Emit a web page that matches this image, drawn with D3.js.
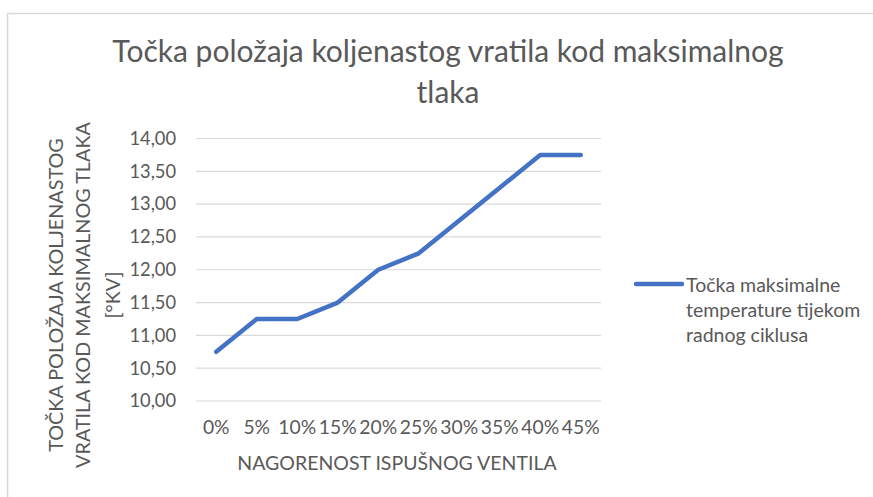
<!DOCTYPE html>
<html>
<head>
<meta charset="utf-8">
<script src="https://cdn.jsdelivr.net/npm/d3@7"></script>
<style>
  html, body { margin: 0; padding: 0; background: #fff; }
  svg { display: block; }
  text { font-family: Lato, "Open Sans", sans-serif; fill: #595959; }
</style>
</head>
<body>
<svg id="chart" width="873" height="497"></svg>
<script>
const categories = ["0%", "5%", "10%", "15%", "20%", "25%", "30%", "35%", "40%", "45%"];
const values = [10.75, 11.25, 11.25, 11.5, 12.0, 12.25, 12.75, 13.25, 13.75, 13.75];
const yTicks = [10, 10.5, 11, 11.5, 12, 12.5, 13, 13.5, 14];
const titleLines = ["Točka položaja koljenastog vratila kod maksimalnog", "tlaka"];
const yTitleLines = ["TOČKA POLOŽAJA KOLJENASTOG", "VRATILA KOD MAKSIMALNOG TLAKA", "[°KV]"];
const xTitle = "NAGORENOST ISPUŠNOG VENTILA";
const legendLines = ["Točka maksimalne", "temperature tijekom", "radnog ciklusa"];

const svg = d3.select("#chart");
const W = 873, H = 497;
const plot = { left: 196, right: 601, top: 138.5, bottom: 401 };

// chart border
svg.append("rect").attr("x", 7.5).attr("y", 13.5).attr("width", W).attr("height", H)
  .attr("fill", "none").attr("stroke", "#D9D9D9").attr("stroke-width", 1.5);

const x = d3.scaleBand().domain(categories).range([plot.left, plot.right]);
const y = d3.scaleLinear().domain([10, 14]).range([plot.bottom, plot.top]);

// gridlines
svg.append("g").selectAll("line").data(yTicks).join("line")
  .attr("x1", plot.left).attr("x2", plot.right)
  .attr("y1", d => y(d)).attr("y2", d => y(d))
  .attr("stroke", "#D9D9D9").attr("stroke-width", 1.2);

// y axis labels
const fmt = d => d.toFixed(2).replace(".", ",");
const yAxis = d3.axisLeft(y).tickValues(yTicks).tickFormat(fmt).tickSize(0).tickPadding(0);
const gy = svg.append("g").attr("transform", `translate(176,0)`).call(yAxis);
gy.select(".domain").remove();
gy.selectAll("text").attr("font-size", 18.3).style("fill", "#595959")
  .style("font-family", "Lato, sans-serif");

// x axis labels
const xAxis = d3.axisBottom(x).tickSize(0).tickPadding(0);
const gx = svg.append("g").attr("transform", `translate(0,420.5)`).call(xAxis);
gx.select(".domain").remove();
gx.selectAll("text").attr("font-size", 19.3).attr("dy", "0.71em").attr("y", 0).style("fill", "#595959")
  .style("font-family", "Lato, sans-serif");

// line
const line = d3.line().x((d, i) => x(categories[i]) + x.bandwidth() / 2).y(d => y(d));
svg.append("path").datum(values).attr("d", line)
  .attr("fill", "none").attr("stroke", "#4472C4").attr("stroke-width", 4.5)
  .attr("stroke-linejoin", "round").attr("stroke-linecap", "round");

// title
svg.append("g").selectAll("text").data(titleLines).join("text")
  .attr("x", 448).attr("y", (d, i) => 62 + i * 41)
  .attr("text-anchor", "middle").attr("font-size", 30).text(d => d);

// y axis title
svg.append("g").selectAll("text").data(yTitleLines).join("text")
  .attr("transform", (d, i) => `translate(${[54.5, 82, 112][i]},295) rotate(-90)`)
  .attr("text-anchor", "middle").attr("dominant-baseline", "central")
  .attr("font-size", 19.8).text(d => d);

// x axis title
svg.append("text").attr("x", 397).attr("y", 470).attr("text-anchor", "middle")
  .attr("font-size", 19.5).text(xTitle);

// legend
svg.append("line").attr("x1", 636).attr("x2", 682).attr("y1", 284).attr("y2", 284)
  .attr("stroke", "#4472C4").attr("stroke-width", 4.5).attr("stroke-linecap", "round");
svg.append("g").selectAll("text").data(legendLines).join("text")
  .attr("x", 686).attr("y", (d, i) => 292 + i * 25)
  .attr("font-size", 19.5).text(d => d);
</script>
</body>
</html>
